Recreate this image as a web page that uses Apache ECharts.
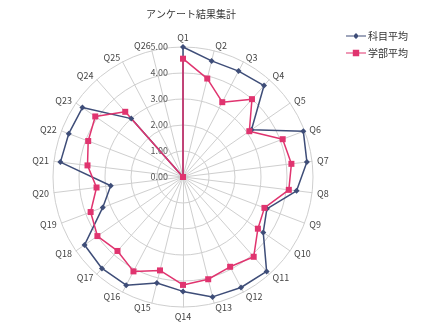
<!DOCTYPE html>
<html>
<head>
<meta charset="utf-8">
<script src="https://cdn.jsdelivr.net/npm/echarts@6/dist/echarts.min.js"></script>
<style>
  html, body { margin: 0; padding: 0; background: #fff; }
  #chart { width: 430px; height: 331px; }
</style>
</head>
<body>
<div id="chart"></div>
<script>
// Survey questions around the radar
const categories = ['Q1','Q2','Q3','Q4','Q5','Q6','Q7','Q8','Q9','Q10','Q11','Q12','Q13',
  'Q14','Q15','Q16','Q17','Q18','Q19','Q20','Q21','Q22','Q23','Q24','Q25','Q26'];

// Average score per question for the course
const subjectAvg = [5.00, 4.60, 4.60, 4.70, 3.20, 4.95, 4.80, 4.40, 3.45, 3.75, 4.85, 4.80, 4.75,
  4.40, 4.20, 4.70, 4.70, 4.60, 3.30, 2.80, 4.75, 4.70, 4.70, 3.00, 0, 0];

// Average score per question for the whole faculty
const facultyAvg = [4.55, 3.90, 3.25, 4.00, 3.10, 4.10, 4.20, 4.10, 3.35, 3.50, 4.10, 3.90, 4.05,
  4.15, 3.70, 4.10, 3.80, 4.00, 3.80, 3.35, 3.70, 3.90, 4.10, 3.35, 0, 0];

const seriesNames = ['科目平均', '学部平均'];

// Value scale: 0.00 .. 5.00 in steps of 1.00
const scaleMin = 0;
const scaleMax = 5;
const scaleSteps = 5;

const BLUE = '#3e4d78';
const PINK = '#e0346f';
const FONT = '"Noto Sans CJK JP", "Noto Sans", sans-serif';

// The radar lays indicators out counter-clockwise; walk the questions in
// the order Q1, Q26, Q25, ... Q2 so they read clockwise from the top.
const order = [0].concat(categories.map((_, i) => categories.length - 1 - i).slice(0, categories.length - 1));
const pick = arr => order.map(i => arr[i]);

const indicator = order.map((idx, k) => {
  const ind = { name: categories[idx], min: scaleMin, max: scaleMax };
  if (k === 0) {
    ind.axisLabel = {
      show: true,
      fontSize: 9,
      color: '#555',
      fontFamily: FONT,
      margin: 15,
      align: 'right',
      formatter: v => Number(v).toFixed(2)
    };
  }
  return ind;
});

const chart = echarts.init(document.getElementById('chart'));
chart.setOption({
  backgroundColor: '#fff',
  animation: false,
  title: {
    text: 'アンケート結果集計',
    left: 186,
    top: 4,
    textAlign: 'center',
    textStyle: { fontSize: 10, fontWeight: 'normal', color: '#333', fontFamily: FONT }
  },
  legend: {
    left: 341,
    top: 26,
    orient: 'vertical',
    itemWidth: 20,
    itemHeight: 9,
    itemGap: 7,
    textStyle: { fontSize: 10, color: '#333', fontFamily: FONT, padding: [0, 0, 0, -3] },
    data: [
      { name: seriesNames[0], icon: 'path://M0,4H7V5H0Z M7,4.5L10,1.5L13,4.5L10,7.5Z M13,4H20V5H13Z' },
      { name: seriesNames[1], icon: 'path://M0,4H6.8V5H0Z M6.8,1.3H13.2V7.7H6.8Z M13.2,4H20V5H13.2Z' }
    ]
  },
  radar: {
    center: [183, 177],
    radius: 130,
    startAngle: 90,
    shape: 'circle',
    splitNumber: scaleSteps,
    indicator: indicator,
    axisName: { color: '#444', fontSize: 9, fontFamily: FONT },
    nameGap: 5,
    axisLabel: { show: false },
    axisLine: { lineStyle: { color: '#cfcfcf', width: 1 } },
    splitLine: { lineStyle: { color: '#cfcfcf', width: 1 } },
    splitArea: { show: false }
  },
  series: [{
    type: 'radar',
    data: [
      {
        name: seriesNames[0],
        value: pick(subjectAvg),
        symbol: 'diamond',
        symbolSize: 6,
        lineStyle: { color: BLUE, width: 1.5 },
        itemStyle: { color: BLUE }
      },
      {
        name: seriesNames[1],
        value: pick(facultyAvg),
        symbol: 'rect',
        symbolSize: 6,
        lineStyle: { color: PINK, width: 1.5 },
        itemStyle: { color: PINK }
      }
    ]
  }],
  color: [BLUE, PINK]
});
</script>
</body>
</html>
